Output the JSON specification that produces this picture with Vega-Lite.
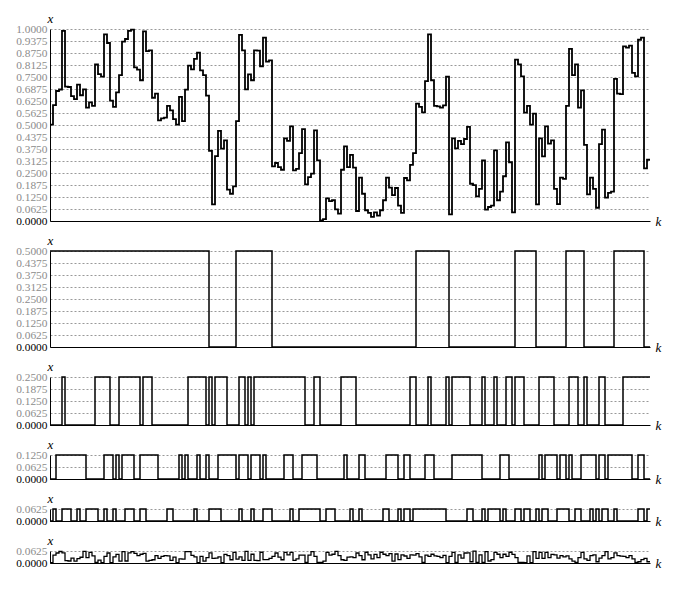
{
"$schema": "https://vega.github.io/schema/vega-lite/v6.json",
"background": "white",
"padding": {"left": 15, "top": 12, "right": 5, "bottom": 5},
"spacing": 30,
"bounds": "flush",
"config": {
  "view": {"stroke": null},
  "font": "Liberation Serif",
  "axis": {"ticks": false, "domainColor": "black", "domainWidth": 1, "labelFont": "Liberation Serif", "labelFontSize": 11.4, "titleFont": "Liberation Serif", "titleFontStyle": "italic", "titleFontWeight": "normal", "titleFontSize": 13, "titleColor": "black"},
  "axisX": {"labels": false, "grid": false, "titleAngle": 0, "titleX": 605, "titleY": 0, "titleAlign": "left", "titleBaseline": "middle", "titlePadding": 0},
  "axisY": {"grid": true, "gridDash": [2, 2], "gridColor": "#999999", "gridWidth": 1, "format": ".4f", "labelPadding": 3, "titleAngle": 0, "titleX": 0, "titleY": -7, "titleAlign": "center", "titleBaseline": "alphabetic"}
},
"datasets": {"s": [
{"k":0,"x":0.502,"a":0.5,"b":0,"c":0,"d":0,"r":0.002},
{"k":1,"x":0.604,"a":0.5,"b":0,"c":0,"d":0.0625,"r":0.0415},
{"k":2,"x":0.677,"a":0.5,"b":0,"c":0.125,"d":0,"r":0.052},
{"k":3,"x":0.685,"a":0.5,"b":0,"c":0.125,"d":0,"r":0.060},
{"k":4,"x":0.990,"a":0.5,"b":0.25,"c":0.125,"d":0.0625,"r":0.0525},
{"k":5,"x":0.700,"a":0.5,"b":0,"c":0.125,"d":0.0625,"r":0.0125},
{"k":6,"x":0.698,"a":0.5,"b":0,"c":0.125,"d":0.0625,"r":0.0105},
{"k":7,"x":0.650,"a":0.5,"b":0,"c":0.125,"d":0,"r":0.025},
{"k":8,"x":0.635,"a":0.5,"b":0,"c":0.125,"d":0,"r":0.010},
{"k":9,"x":0.710,"a":0.5,"b":0,"c":0.125,"d":0.0625,"r":0.0225},
{"k":10,"x":0.655,"a":0.5,"b":0,"c":0.125,"d":0,"r":0.030},
{"k":11,"x":0.686,"a":0.5,"b":0,"c":0.125,"d":0,"r":0.061},
{"k":12,"x":0.590,"a":0.5,"b":0,"c":0,"d":0.0625,"r":0.0275},
{"k":13,"x":0.618,"a":0.5,"b":0,"c":0,"d":0.0625,"r":0.0555},
{"k":14,"x":0.600,"a":0.5,"b":0,"c":0,"d":0.0625,"r":0.0375},
{"k":15,"x":0.815,"a":0.5,"b":0.25,"c":0,"d":0.0625,"r":0.0025},
{"k":16,"x":0.765,"a":0.5,"b":0.25,"c":0,"d":0,"r":0.015},
{"k":17,"x":0.752,"a":0.5,"b":0.25,"c":0,"d":0,"r":0.002},
{"k":18,"x":0.972,"a":0.5,"b":0.25,"c":0.125,"d":0.0625,"r":0.0345},
{"k":19,"x":0.927,"a":0.5,"b":0.25,"c":0.125,"d":0,"r":0.052},
{"k":20,"x":0.627,"a":0.5,"b":0,"c":0.125,"d":0,"r":0.002},
{"k":21,"x":0.594,"a":0.5,"b":0,"c":0,"d":0.0625,"r":0.0315},
{"k":22,"x":0.670,"a":0.5,"b":0,"c":0.125,"d":0,"r":0.045},
{"k":23,"x":0.760,"a":0.5,"b":0.25,"c":0,"d":0,"r":0.010},
{"k":24,"x":0.934,"a":0.5,"b":0.25,"c":0.125,"d":0,"r":0.059},
{"k":25,"x":0.948,"a":0.5,"b":0.25,"c":0.125,"d":0.0625,"r":0.0105},
{"k":26,"x":0.990,"a":0.5,"b":0.25,"c":0.125,"d":0.0625,"r":0.0525},
{"k":27,"x":0.997,"a":0.5,"b":0.25,"c":0.125,"d":0.0625,"r":0.0595},
{"k":28,"x":0.800,"a":0.5,"b":0.25,"c":0,"d":0,"r":0.050},
{"k":29,"x":0.788,"a":0.5,"b":0.25,"c":0,"d":0,"r":0.038},
{"k":30,"x":0.733,"a":0.5,"b":0,"c":0.125,"d":0.0625,"r":0.0455},
{"k":31,"x":0.988,"a":0.5,"b":0.25,"c":0.125,"d":0.0625,"r":0.0505},
{"k":32,"x":0.885,"a":0.5,"b":0.25,"c":0.125,"d":0,"r":0.010},
{"k":33,"x":0.889,"a":0.5,"b":0.25,"c":0.125,"d":0,"r":0.014},
{"k":34,"x":0.642,"a":0.5,"b":0,"c":0.125,"d":0,"r":0.017},
{"k":35,"x":0.663,"a":0.5,"b":0,"c":0.125,"d":0,"r":0.038},
{"k":36,"x":0.524,"a":0.5,"b":0,"c":0,"d":0,"r":0.024},
{"k":37,"x":0.535,"a":0.5,"b":0,"c":0,"d":0,"r":0.035},
{"k":38,"x":0.538,"a":0.5,"b":0,"c":0,"d":0,"r":0.038},
{"k":39,"x":0.600,"a":0.5,"b":0,"c":0,"d":0.0625,"r":0.0375},
{"k":40,"x":0.576,"a":0.5,"b":0,"c":0,"d":0.0625,"r":0.0135},
{"k":41,"x":0.531,"a":0.5,"b":0,"c":0,"d":0,"r":0.031},
{"k":42,"x":0.502,"a":0.5,"b":0,"c":0,"d":0,"r":0.002},
{"k":43,"x":0.646,"a":0.5,"b":0,"c":0.125,"d":0,"r":0.021},
{"k":44,"x":0.520,"a":0.5,"b":0,"c":0,"d":0,"r":0.020},
{"k":45,"x":0.684,"a":0.5,"b":0,"c":0.125,"d":0,"r":0.059},
{"k":46,"x":0.809,"a":0.5,"b":0.25,"c":0,"d":0,"r":0.059},
{"k":47,"x":0.790,"a":0.5,"b":0.25,"c":0,"d":0,"r":0.040},
{"k":48,"x":0.844,"a":0.5,"b":0.25,"c":0,"d":0.0625,"r":0.0315},
{"k":49,"x":0.877,"a":0.5,"b":0.25,"c":0.125,"d":0,"r":0.002},
{"k":50,"x":0.785,"a":0.5,"b":0.25,"c":0,"d":0,"r":0.035},
{"k":51,"x":0.760,"a":0.5,"b":0.25,"c":0,"d":0,"r":0.010},
{"k":52,"x":0.653,"a":0.5,"b":0,"c":0.125,"d":0,"r":0.028},
{"k":53,"x":0.365,"a":0,"b":0.25,"c":0,"d":0.0625,"r":0.0525},
{"k":54,"x":0.087,"a":0,"b":0,"c":0,"d":0.0625,"r":0.0245},
{"k":55,"x":0.338,"a":0,"b":0.25,"c":0,"d":0.0625,"r":0.0255},
{"k":56,"x":0.469,"a":0,"b":0.25,"c":0.125,"d":0.0625,"r":0.0315},
{"k":57,"x":0.377,"a":0,"b":0.25,"c":0.125,"d":0,"r":0.002},
{"k":58,"x":0.420,"a":0,"b":0.25,"c":0.125,"d":0,"r":0.045},
{"k":59,"x":0.163,"a":0,"b":0,"c":0.125,"d":0,"r":0.038},
{"k":60,"x":0.142,"a":0,"b":0,"c":0.125,"d":0,"r":0.017},
{"k":61,"x":0.180,"a":0,"b":0,"c":0.125,"d":0,"r":0.055},
{"k":62,"x":0.520,"a":0.5,"b":0,"c":0,"d":0,"r":0.020},
{"k":63,"x":0.969,"a":0.5,"b":0.25,"c":0.125,"d":0.0625,"r":0.0315},
{"k":64,"x":0.889,"a":0.5,"b":0.25,"c":0.125,"d":0,"r":0.014},
{"k":65,"x":0.686,"a":0.5,"b":0,"c":0.125,"d":0,"r":0.061},
{"k":66,"x":0.764,"a":0.5,"b":0.25,"c":0,"d":0,"r":0.014},
{"k":67,"x":0.733,"a":0.5,"b":0,"c":0.125,"d":0.0625,"r":0.0455},
{"k":68,"x":0.889,"a":0.5,"b":0.25,"c":0.125,"d":0,"r":0.014},
{"k":69,"x":0.887,"a":0.5,"b":0.25,"c":0.125,"d":0,"r":0.012},
{"k":70,"x":0.806,"a":0.5,"b":0.25,"c":0,"d":0,"r":0.056},
{"k":71,"x":0.955,"a":0.5,"b":0.25,"c":0.125,"d":0.0625,"r":0.0175},
{"k":72,"x":0.830,"a":0.5,"b":0.25,"c":0,"d":0.0625,"r":0.0175},
{"k":73,"x":0.837,"a":0.5,"b":0.25,"c":0,"d":0.0625,"r":0.0245},
{"k":74,"x":0.285,"a":0,"b":0.25,"c":0,"d":0,"r":0.035},
{"k":75,"x":0.302,"a":0,"b":0.25,"c":0,"d":0,"r":0.052},
{"k":76,"x":0.281,"a":0,"b":0.25,"c":0,"d":0,"r":0.031},
{"k":77,"x":0.267,"a":0,"b":0.25,"c":0,"d":0,"r":0.017},
{"k":78,"x":0.430,"a":0,"b":0.25,"c":0.125,"d":0,"r":0.055},
{"k":79,"x":0.417,"a":0,"b":0.25,"c":0.125,"d":0,"r":0.042},
{"k":80,"x":0.493,"a":0,"b":0.25,"c":0.125,"d":0.0625,"r":0.0555},
{"k":81,"x":0.264,"a":0,"b":0.25,"c":0,"d":0,"r":0.014},
{"k":82,"x":0.271,"a":0,"b":0.25,"c":0,"d":0,"r":0.021},
{"k":83,"x":0.354,"a":0,"b":0.25,"c":0,"d":0.0625,"r":0.0415},
{"k":84,"x":0.479,"a":0,"b":0.25,"c":0.125,"d":0.0625,"r":0.0415},
{"k":85,"x":0.191,"a":0,"b":0,"c":0.125,"d":0.0625,"r":0.0035},
{"k":86,"x":0.229,"a":0,"b":0,"c":0.125,"d":0.0625,"r":0.0415},
{"k":87,"x":0.247,"a":0,"b":0,"c":0.125,"d":0.0625,"r":0.0595},
{"k":88,"x":0.472,"a":0,"b":0.25,"c":0.125,"d":0.0625,"r":0.0345},
{"k":89,"x":0.316,"a":0,"b":0.25,"c":0,"d":0.0625,"r":0.0035},
{"k":90,"x":0.003,"a":0,"b":0,"c":0,"d":0,"r":0.003},
{"k":91,"x":0.010,"a":0,"b":0,"c":0,"d":0,"r":0.010},
{"k":92,"x":0.118,"a":0,"b":0,"c":0,"d":0.0625,"r":0.0555},
{"k":93,"x":0.104,"a":0,"b":0,"c":0,"d":0.0625,"r":0.0415},
{"k":94,"x":0.108,"a":0,"b":0,"c":0,"d":0.0625,"r":0.0455},
{"k":95,"x":0.061,"a":0,"b":0,"c":0,"d":0,"r":0.061},
{"k":96,"x":0.038,"a":0,"b":0,"c":0,"d":0,"r":0.038},
{"k":97,"x":0.267,"a":0,"b":0.25,"c":0,"d":0,"r":0.017},
{"k":98,"x":0.389,"a":0,"b":0.25,"c":0.125,"d":0,"r":0.014},
{"k":99,"x":0.281,"a":0,"b":0.25,"c":0,"d":0,"r":0.031},
{"k":100,"x":0.344,"a":0,"b":0.25,"c":0,"d":0.0625,"r":0.0315},
{"k":101,"x":0.278,"a":0,"b":0.25,"c":0,"d":0,"r":0.028},
{"k":102,"x":0.052,"a":0,"b":0,"c":0,"d":0,"r":0.052},
{"k":103,"x":0.226,"a":0,"b":0,"c":0.125,"d":0.0625,"r":0.0385},
{"k":104,"x":0.142,"a":0,"b":0,"c":0.125,"d":0,"r":0.017},
{"k":105,"x":0.056,"a":0,"b":0,"c":0,"d":0,"r":0.056},
{"k":106,"x":0.042,"a":0,"b":0,"c":0,"d":0,"r":0.042},
{"k":107,"x":0.021,"a":0,"b":0,"c":0,"d":0,"r":0.021},
{"k":108,"x":0.045,"a":0,"b":0,"c":0,"d":0,"r":0.045},
{"k":109,"x":0.028,"a":0,"b":0,"c":0,"d":0,"r":0.028},
{"k":110,"x":0.056,"a":0,"b":0,"c":0,"d":0,"r":0.056},
{"k":111,"x":0.108,"a":0,"b":0,"c":0,"d":0.0625,"r":0.0455},
{"k":112,"x":0.226,"a":0,"b":0,"c":0.125,"d":0.0625,"r":0.0385},
{"k":113,"x":0.174,"a":0,"b":0,"c":0.125,"d":0,"r":0.049},
{"k":114,"x":0.135,"a":0,"b":0,"c":0.125,"d":0,"r":0.010},
{"k":115,"x":0.172,"a":0,"b":0,"c":0.125,"d":0,"r":0.047},
{"k":116,"x":0.080,"a":0,"b":0,"c":0,"d":0.0625,"r":0.0175},
{"k":117,"x":0.042,"a":0,"b":0,"c":0,"d":0,"r":0.042},
{"k":118,"x":0.224,"a":0,"b":0,"c":0.125,"d":0.0625,"r":0.0365},
{"k":119,"x":0.212,"a":0,"b":0,"c":0.125,"d":0.0625,"r":0.0245},
{"k":120,"x":0.292,"a":0,"b":0.25,"c":0,"d":0,"r":0.042},
{"k":121,"x":0.354,"a":0,"b":0.25,"c":0,"d":0.0625,"r":0.0415},
{"k":122,"x":0.611,"a":0.5,"b":0,"c":0,"d":0.0625,"r":0.0485},
{"k":123,"x":0.594,"a":0.5,"b":0,"c":0,"d":0.0625,"r":0.0315},
{"k":124,"x":0.566,"a":0.5,"b":0,"c":0,"d":0.0625,"r":0.0035},
{"k":125,"x":0.729,"a":0.5,"b":0,"c":0.125,"d":0.0625,"r":0.0415},
{"k":126,"x":0.972,"a":0.5,"b":0.25,"c":0.125,"d":0.0625,"r":0.0345},
{"k":127,"x":0.733,"a":0.5,"b":0,"c":0.125,"d":0.0625,"r":0.0455},
{"k":128,"x":0.600,"a":0.5,"b":0,"c":0,"d":0.0625,"r":0.0375},
{"k":129,"x":0.597,"a":0.5,"b":0,"c":0,"d":0.0625,"r":0.0345},
{"k":130,"x":0.590,"a":0.5,"b":0,"c":0,"d":0.0625,"r":0.0275},
{"k":131,"x":0.602,"a":0.5,"b":0,"c":0,"d":0.0625,"r":0.0395},
{"k":132,"x":0.752,"a":0.5,"b":0.25,"c":0,"d":0,"r":0.002},
{"k":133,"x":0.035,"a":0,"b":0,"c":0,"d":0,"r":0.035},
{"k":134,"x":0.430,"a":0,"b":0.25,"c":0.125,"d":0,"r":0.055},
{"k":135,"x":0.378,"a":0,"b":0.25,"c":0.125,"d":0,"r":0.003},
{"k":136,"x":0.417,"a":0,"b":0.25,"c":0.125,"d":0,"r":0.042},
{"k":137,"x":0.400,"a":0,"b":0.25,"c":0.125,"d":0,"r":0.025},
{"k":138,"x":0.427,"a":0,"b":0.25,"c":0.125,"d":0,"r":0.052},
{"k":139,"x":0.490,"a":0,"b":0.25,"c":0.125,"d":0.0625,"r":0.0525},
{"k":140,"x":0.194,"a":0,"b":0,"c":0.125,"d":0.0625,"r":0.0065},
{"k":141,"x":0.187,"a":0,"b":0,"c":0.125,"d":0,"r":0.062},
{"k":142,"x":0.128,"a":0,"b":0,"c":0.125,"d":0,"r":0.003},
{"k":143,"x":0.167,"a":0,"b":0,"c":0.125,"d":0,"r":0.042},
{"k":144,"x":0.316,"a":0,"b":0.25,"c":0,"d":0.0625,"r":0.0035},
{"k":145,"x":0.059,"a":0,"b":0,"c":0,"d":0,"r":0.059},
{"k":146,"x":0.073,"a":0,"b":0,"c":0,"d":0.0625,"r":0.0105},
{"k":147,"x":0.080,"a":0,"b":0,"c":0,"d":0.0625,"r":0.0175},
{"k":148,"x":0.368,"a":0,"b":0.25,"c":0,"d":0.0625,"r":0.0555},
{"k":149,"x":0.108,"a":0,"b":0,"c":0,"d":0.0625,"r":0.0455},
{"k":150,"x":0.153,"a":0,"b":0,"c":0.125,"d":0,"r":0.028},
{"k":151,"x":0.233,"a":0,"b":0,"c":0.125,"d":0.0625,"r":0.0455},
{"k":152,"x":0.410,"a":0,"b":0.25,"c":0.125,"d":0,"r":0.035},
{"k":153,"x":0.306,"a":0,"b":0.25,"c":0,"d":0,"r":0.056},
{"k":154,"x":0.045,"a":0,"b":0,"c":0,"d":0,"r":0.045},
{"k":155,"x":0.840,"a":0.5,"b":0.25,"c":0,"d":0.0625,"r":0.0275},
{"k":156,"x":0.816,"a":0.5,"b":0.25,"c":0,"d":0.0625,"r":0.0035},
{"k":157,"x":0.753,"a":0.5,"b":0.25,"c":0,"d":0,"r":0.003},
{"k":158,"x":0.564,"a":0.5,"b":0,"c":0,"d":0.0625,"r":0.0015},
{"k":159,"x":0.600,"a":0.5,"b":0,"c":0,"d":0.0625,"r":0.0375},
{"k":160,"x":0.502,"a":0.5,"b":0,"c":0,"d":0,"r":0.002},
{"k":161,"x":0.559,"a":0.5,"b":0,"c":0,"d":0,"r":0.059},
{"k":162,"x":0.087,"a":0,"b":0,"c":0,"d":0.0625,"r":0.0245},
{"k":163,"x":0.430,"a":0,"b":0.25,"c":0.125,"d":0,"r":0.055},
{"k":164,"x":0.337,"a":0,"b":0.25,"c":0,"d":0.0625,"r":0.0245},
{"k":165,"x":0.493,"a":0,"b":0.25,"c":0.125,"d":0.0625,"r":0.0555},
{"k":166,"x":0.403,"a":0,"b":0.25,"c":0.125,"d":0,"r":0.028},
{"k":167,"x":0.420,"a":0,"b":0.25,"c":0.125,"d":0,"r":0.045},
{"k":168,"x":0.167,"a":0,"b":0,"c":0.125,"d":0,"r":0.042},
{"k":169,"x":0.088,"a":0,"b":0,"c":0,"d":0.0625,"r":0.0255},
{"k":170,"x":0.226,"a":0,"b":0,"c":0.125,"d":0.0625,"r":0.0385},
{"k":171,"x":0.219,"a":0,"b":0,"c":0.125,"d":0.0625,"r":0.0315},
{"k":172,"x":0.600,"a":0.5,"b":0,"c":0,"d":0.0625,"r":0.0375},
{"k":173,"x":0.896,"a":0.5,"b":0.25,"c":0.125,"d":0,"r":0.021},
{"k":174,"x":0.760,"a":0.5,"b":0.25,"c":0,"d":0,"r":0.010},
{"k":175,"x":0.816,"a":0.5,"b":0.25,"c":0,"d":0.0625,"r":0.0035},
{"k":176,"x":0.590,"a":0.5,"b":0,"c":0,"d":0.0625,"r":0.0275},
{"k":177,"x":0.680,"a":0.5,"b":0,"c":0.125,"d":0,"r":0.055},
{"k":178,"x":0.396,"a":0,"b":0.25,"c":0.125,"d":0,"r":0.021},
{"k":179,"x":0.139,"a":0,"b":0,"c":0.125,"d":0,"r":0.014},
{"k":180,"x":0.226,"a":0,"b":0,"c":0.125,"d":0.0625,"r":0.0385},
{"k":181,"x":0.167,"a":0,"b":0,"c":0.125,"d":0,"r":0.042},
{"k":182,"x":0.069,"a":0,"b":0,"c":0,"d":0.0625,"r":0.0065},
{"k":183,"x":0.400,"a":0,"b":0.25,"c":0.125,"d":0,"r":0.025},
{"k":184,"x":0.476,"a":0,"b":0.25,"c":0.125,"d":0.0625,"r":0.0385},
{"k":185,"x":0.122,"a":0,"b":0,"c":0,"d":0.0625,"r":0.0595},
{"k":186,"x":0.146,"a":0,"b":0,"c":0.125,"d":0,"r":0.021},
{"k":187,"x":0.153,"a":0,"b":0,"c":0.125,"d":0,"r":0.028},
{"k":188,"x":0.740,"a":0.5,"b":0,"c":0.125,"d":0.0625,"r":0.0525},
{"k":189,"x":0.663,"a":0.5,"b":0,"c":0.125,"d":0,"r":0.038},
{"k":190,"x":0.661,"a":0.5,"b":0,"c":0.125,"d":0,"r":0.036},
{"k":191,"x":0.910,"a":0.5,"b":0.25,"c":0.125,"d":0,"r":0.035},
{"k":192,"x":0.903,"a":0.5,"b":0.25,"c":0.125,"d":0,"r":0.028},
{"k":193,"x":0.913,"a":0.5,"b":0.25,"c":0.125,"d":0,"r":0.038},
{"k":194,"x":0.771,"a":0.5,"b":0.25,"c":0,"d":0,"r":0.021},
{"k":195,"x":0.753,"a":0.5,"b":0.25,"c":0,"d":0,"r":0.003},
{"k":196,"x":0.944,"a":0.5,"b":0.25,"c":0.125,"d":0.0625,"r":0.0065},
{"k":197,"x":0.955,"a":0.5,"b":0.25,"c":0.125,"d":0.0625,"r":0.0175},
{"k":198,"x":0.274,"a":0,"b":0.25,"c":0,"d":0,"r":0.024},
{"k":199,"x":0.319,"a":0,"b":0.25,"c":0,"d":0.0625,"r":0.0065},
{"k":200,"x":0.319,"a":0,"b":0.25,"c":0,"d":0.0625,"r":0.0065}
]},
"vconcat": [
{"width": 600, "height": 192, "data": {"name": "s"},
 "mark": {"type": "line", "interpolate": "step-after", "color": "black", "strokeWidth": 1.8},
 "encoding": {
  "x": {"field": "k", "type": "quantitative", "scale": {"domain": [0, 200], "nice": false, "zero": false}, "axis": {"title": "k"}},
  "y": {"field": "x", "type": "quantitative", "scale": {"domain": [0, 1], "nice": false}, "axis": {"title": "x", "values": [0,0.0625,0.125,0.1875,0.25,0.3125,0.375,0.4375,0.5,0.5625,0.625,0.6875,0.75,0.8125,0.875,0.9375,1], "labelColor": {"condition": {"test": "datum.value === 0", "value": "black"}, "value": "#8c8c8c"}}}
 }},
{"width": 600, "height": 96, "data": {"name": "s"},
 "mark": {"type": "line", "interpolate": "step-after", "color": "black", "strokeWidth": 1.5},
 "encoding": {
  "x": {"field": "k", "type": "quantitative", "scale": {"domain": [0, 200], "nice": false, "zero": false}, "axis": {"title": "k"}},
  "y": {"field": "a", "type": "quantitative", "scale": {"domain": [0, 0.5], "nice": false}, "axis": {"title": "x", "values": [0,0.0625,0.125,0.1875,0.25,0.3125,0.375,0.4375,0.5], "labelColor": {"condition": {"test": "datum.value === 0", "value": "black"}, "value": "#8c8c8c"}}}
 }},
{"width": 600, "height": 48, "data": {"name": "s"},
 "mark": {"type": "line", "interpolate": "step-after", "color": "black", "strokeWidth": 1.5},
 "encoding": {
  "x": {"field": "k", "type": "quantitative", "scale": {"domain": [0, 200], "nice": false, "zero": false}, "axis": {"title": "k"}},
  "y": {"field": "b", "type": "quantitative", "scale": {"domain": [0, 0.25], "nice": false}, "axis": {"title": "x", "values": [0,0.0625,0.125,0.1875,0.25], "labelColor": {"condition": {"test": "datum.value === 0", "value": "black"}, "value": "#8c8c8c"}}}
 }},
{"width": 600, "height": 24, "data": {"name": "s"},
 "mark": {"type": "line", "interpolate": "step-after", "color": "black", "strokeWidth": 1.5},
 "encoding": {
  "x": {"field": "k", "type": "quantitative", "scale": {"domain": [0, 200], "nice": false, "zero": false}, "axis": {"title": "k"}},
  "y": {"field": "c", "type": "quantitative", "scale": {"domain": [0, 0.125], "nice": false}, "axis": {"title": "x", "values": [0,0.0625,0.125], "labelColor": {"condition": {"test": "datum.value === 0", "value": "black"}, "value": "#8c8c8c"}}}
 }},
{"width": 600, "height": 12, "data": {"name": "s"},
 "mark": {"type": "line", "interpolate": "step-after", "color": "black", "strokeWidth": 1.5},
 "encoding": {
  "x": {"field": "k", "type": "quantitative", "scale": {"domain": [0, 200], "nice": false, "zero": false}, "axis": {"title": "k"}},
  "y": {"field": "d", "type": "quantitative", "scale": {"domain": [0, 0.0625], "nice": false}, "axis": {"title": "x", "values": [0,0.0625], "labelColor": {"condition": {"test": "datum.value === 0", "value": "black"}, "value": "#8c8c8c"}}}
 }},
{"width": 600, "height": 12, "data": {"name": "s"},
 "mark": {"type": "line", "interpolate": "step-after", "color": "black", "strokeWidth": 1.3},
 "encoding": {
  "x": {"field": "k", "type": "quantitative", "scale": {"domain": [0, 200], "nice": false, "zero": false}, "axis": {"title": "k"}},
  "y": {"field": "r", "type": "quantitative", "scale": {"domain": [0, 0.0625], "nice": false}, "axis": {"title": "x", "values": [0,0.0625], "labelColor": {"condition": {"test": "datum.value === 0", "value": "black"}, "value": "#8c8c8c"}}}
 }}
]
}
